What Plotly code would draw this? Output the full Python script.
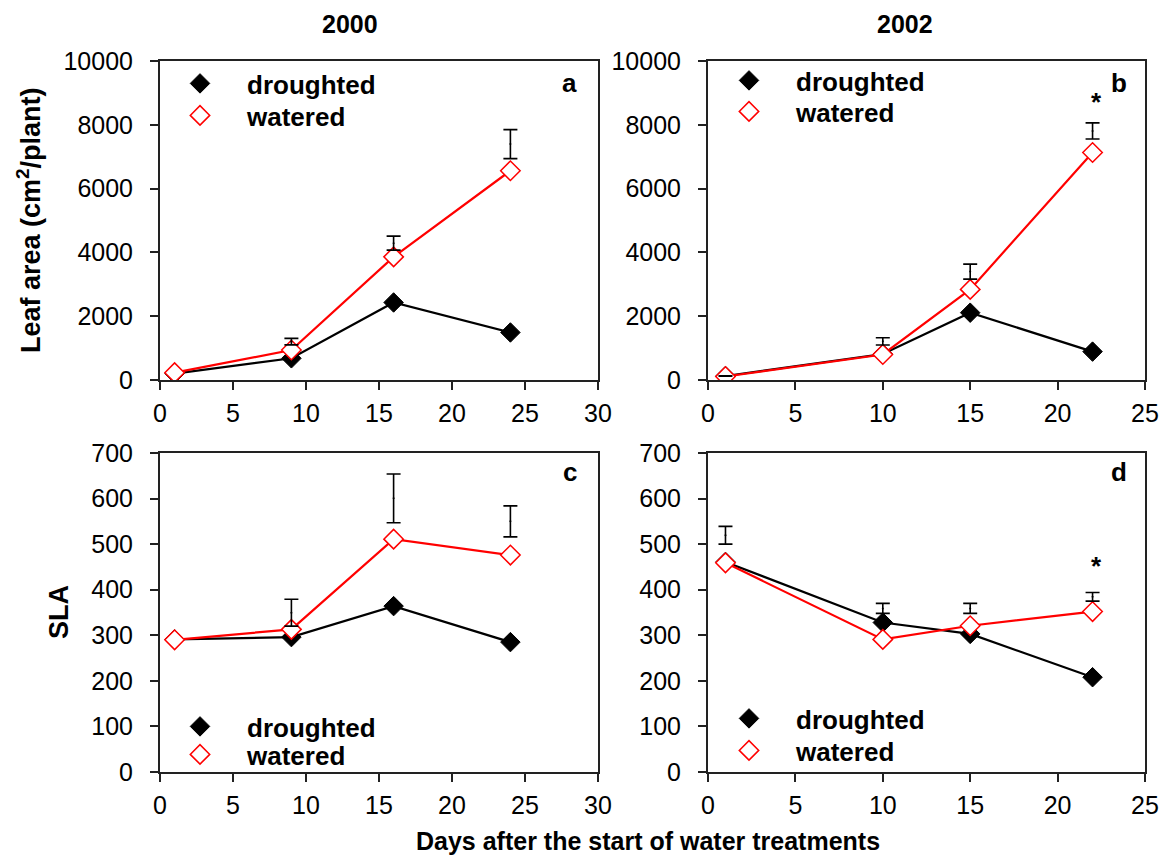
import plotly.graph_objects as go

# page body has an 8px margin, so the figure is 16px smaller than the window
OFF = 8
W, H = 1168 - 2 * OFF, 864 - 2 * OFF

# ---------------- data ----------------
# Panel a: Leaf area, 2000
a_days = [1, 9, 16, 24]
a_drought = [200, 680, 2430, 1490]
a_water = [230, 940, 3860, 6560]
a_err_days = [9, 16, 24]
a_err_low = [1100, 4070, 6940]
a_err_high = [1305, 4510, 7850]

# Panel b: Leaf area, 2002
b_days = [1, 10, 15, 22]
b_drought = [125, 815, 2110, 890]
b_water = [110, 800, 2840, 7130]
b_err_days = [1, 10, 15, 22]
b_err_low = [120, 1096, 3163, 7557]
b_err_high = [130, 1326, 3633, 8059]

# Panel c: SLA, 2000
c_days = [1, 9, 16, 24]
c_drought = [291, 296, 364, 285]
c_water = [290, 313, 511, 476]
c_err_days = [9, 16, 24]
c_err_low = [320, 547, 516]
c_err_high = [379, 654, 584]

# Panel d: SLA, 2002
d_days = [1, 10, 15, 22]
d_drought = [461, 328, 303, 208]
d_water = [459, 291, 321, 352]
d_err_days = [1, 10, 15, 22]
d_err_low = [500, 348, 348, 375]
d_err_high = [539, 370, 370, 394]

series_names = ["droughted", "watered"]
col_titles = ["2000", "2002"]
panel_letters = ["a", "b", "c", "d"]
y_titles = ["Leaf area (cm<sup>2</sup>/plant)", "SLA"]
x_title = "Days after the start of water treatments"
star_points = {"b": (22.2, 8700), "d": (22.2, 452)}

FONT = "Liberation Sans, Arial, sans-serif"


def px_x(p):
    return (p - OFF) / W


def px_y(p):
    return 1 - (p - OFF) / H


dom_x = [(px_x(160), px_x(598)), (px_x(708), px_x(1145))]
dom_y = [(px_y(380), px_y(61)), (px_y(772), px_y(453))]

fig = go.Figure()

panels = [
    ("a", a_days, a_drought, a_water, a_err_days, a_err_low, a_err_high, 0, 0, 30, 10000, 2000),
    ("b", b_days, b_drought, b_water, b_err_days, b_err_low, b_err_high, 1, 0, 25, 10000, 2000),
    ("c", c_days, c_drought, c_water, c_err_days, c_err_low, c_err_high, 0, 1, 30, 700, 100),
    ("d", d_days, d_drought, d_water, d_err_days, d_err_low, d_err_high, 1, 1, 25, 700, 100),
]

# legend marker centres (px): (x, y_droughted, y_watered)
legend_rows = {
    "a": (200, 83, 115),
    "b": (749, 80, 111),
    "c": (200, 726, 754),
    "d": (749, 718, 750),
}
LEG_SYM_DX = 47   # symbol centre offset from legend left edge
LEG_SYM_DY = 23   # symbol centre offset from legend top edge

BLACK_MK = dict(symbol="diamond", size=15, color="black", line=dict(color="black", width=1))
RED_MK = dict(symbol="diamond", size=15, color="white", line=dict(color="#ff0000", width=1.5))

layout_extra = {}
annotations = []
leg_count = 0


def new_legend(mx, my):
    global leg_count
    leg_count += 1
    name = "legend" if leg_count == 1 else f"legend{leg_count}"
    layout_extra[name] = dict(
        x=px_x(mx - LEG_SYM_DX), y=px_y(my - LEG_SYM_DY), xanchor="left", yanchor="top",
        xref="paper", yref="paper",
        bgcolor="rgba(0,0,0,0)", borderwidth=0,
        font=dict(family=FONT, size=26, color="black", weight="bold"),
        itemwidth=84,
    )
    return name


for i, (key, days, dr, wa, ed, el, eh, col, row, xmax, ymax, ydt) in enumerate(panels):
    n = i + 1
    xa = "x" if n == 1 else f"x{n}"
    ya = "y" if n == 1 else f"y{n}"
    mx, my1, my2 = legend_rows[key]
    leg1 = new_legend(mx, my1)
    leg2 = new_legend(mx, my2)
    fig.add_trace(go.Scatter(x=days, y=dr, mode="lines", showlegend=False,
                             xaxis=xa, yaxis=ya, line=dict(color="black", width=2.2)))
    fig.add_trace(go.Scatter(x=days, y=dr, mode="markers", name=series_names[0],
                             xaxis=xa, yaxis=ya, legend=leg1, marker=BLACK_MK))
    fig.add_trace(go.Scatter(x=days, y=wa, mode="lines", showlegend=False,
                             xaxis=xa, yaxis=ya, line=dict(color="#ff0000", width=2.2)))
    fig.add_trace(go.Scatter(x=days, y=wa, mode="markers", name=series_names[1],
                             xaxis=xa, yaxis=ya, legend=leg2, marker=RED_MK))
    centers = [(lo + hi) / 2 for lo, hi in zip(el, eh)]
    halves = [(hi - lo) / 2 for lo, hi in zip(el, eh)]
    fig.add_trace(go.Scatter(
        x=ed, y=centers, mode="markers", showlegend=False,
        xaxis=xa, yaxis=ya,
        marker=dict(size=2, color="black"),
        error_y=dict(type="data", array=halves, symmetric=True, color="black", thickness=1.6, width=7),
        hoverinfo="skip",
    ))
    xname = "xaxis" if n == 1 else f"xaxis{n}"
    yname = "yaxis" if n == 1 else f"yaxis{n}"
    layout_extra[xname] = dict(
        domain=dom_x[col], anchor=ya, range=[0, xmax], dtick=5, tick0=0,
        showline=True, mirror=True, linecolor="#222", linewidth=2,
        ticks="outside", ticklen=8, tickwidth=1.5, tickcolor="#222",
        showgrid=False, zeroline=False, tickformat="d",
        tickfont=dict(family=FONT, size=25, color="black"),
        ticklabelstandoff=2, ticklabeloverflow="allow",
    )
    layout_extra[yname] = dict(
        domain=dom_y[row], anchor=xa, range=[0, ymax], dtick=ydt, tick0=0,
        showline=True, mirror=True, linecolor="#222", linewidth=2,
        ticks="outside", ticklen=8, tickwidth=1.5, tickcolor="#222",
        showgrid=False, zeroline=False, tickformat="d",
        tickfont=dict(family=FONT, size=25, color="black"),
        ticklabelstandoff=12, ticklabeloverflow="allow",
    )
    annotations.append(dict(
        text=f"<b>{panel_letters[i]}</b>", xref=f"{xa} domain", yref=f"{ya} domain",
        x=0.935 if col == 0 else 0.94, y=0.93 if row == 0 else 0.94,
        showarrow=False, font=dict(family=FONT, size=26, color="black"),
        xanchor="center", yanchor="middle",
    ))
    if key in star_points:
        sx, sy = star_points[key]
        annotations.append(dict(
            text="<b>*</b>", xref=xa, yref=ya, x=sx, y=sy, showarrow=False,
            font=dict(family=FONT, size=26, color="black"),
            xanchor="center", yanchor="middle",
        ))

for t, cx in zip(col_titles, [350, 905]):
    annotations.append(dict(text=f"<b>{t}</b>", xref="paper", yref="paper",
                            x=px_x(cx), y=px_y(24), showarrow=False,
                            font=dict(family=FONT, size=25, color="black"),
                            xanchor="center", yanchor="middle"))
annotations.append(dict(text=f"<b>{y_titles[0]}</b>", xref="paper", yref="paper",
                        x=px_x(29), y=px_y(220), showarrow=False, textangle=-90,
                        font=dict(family=FONT, size=27, color="black"),
                        xanchor="center", yanchor="middle"))
annotations.append(dict(text=f"<b>{y_titles[1]}</b>", xref="paper", yref="paper",
                        x=px_x(59), y=px_y(612), showarrow=False, textangle=-90,
                        font=dict(family=FONT, size=27, color="black"),
                        xanchor="center", yanchor="middle"))
annotations.append(dict(text=f"<b>{x_title}</b>", xref="paper", yref="paper",
                        x=px_x(648), y=px_y(841), showarrow=False,
                        font=dict(family=FONT, size=25, color="black"),
                        xanchor="center", yanchor="middle"))

fig.update_layout(
    width=W, height=H,
    margin=dict(l=0, r=0, t=0, b=0, autoexpand=False),
    paper_bgcolor="white", plot_bgcolor="white",
    annotations=annotations,
    **layout_extra,
)

fig.write_html("out.html")
